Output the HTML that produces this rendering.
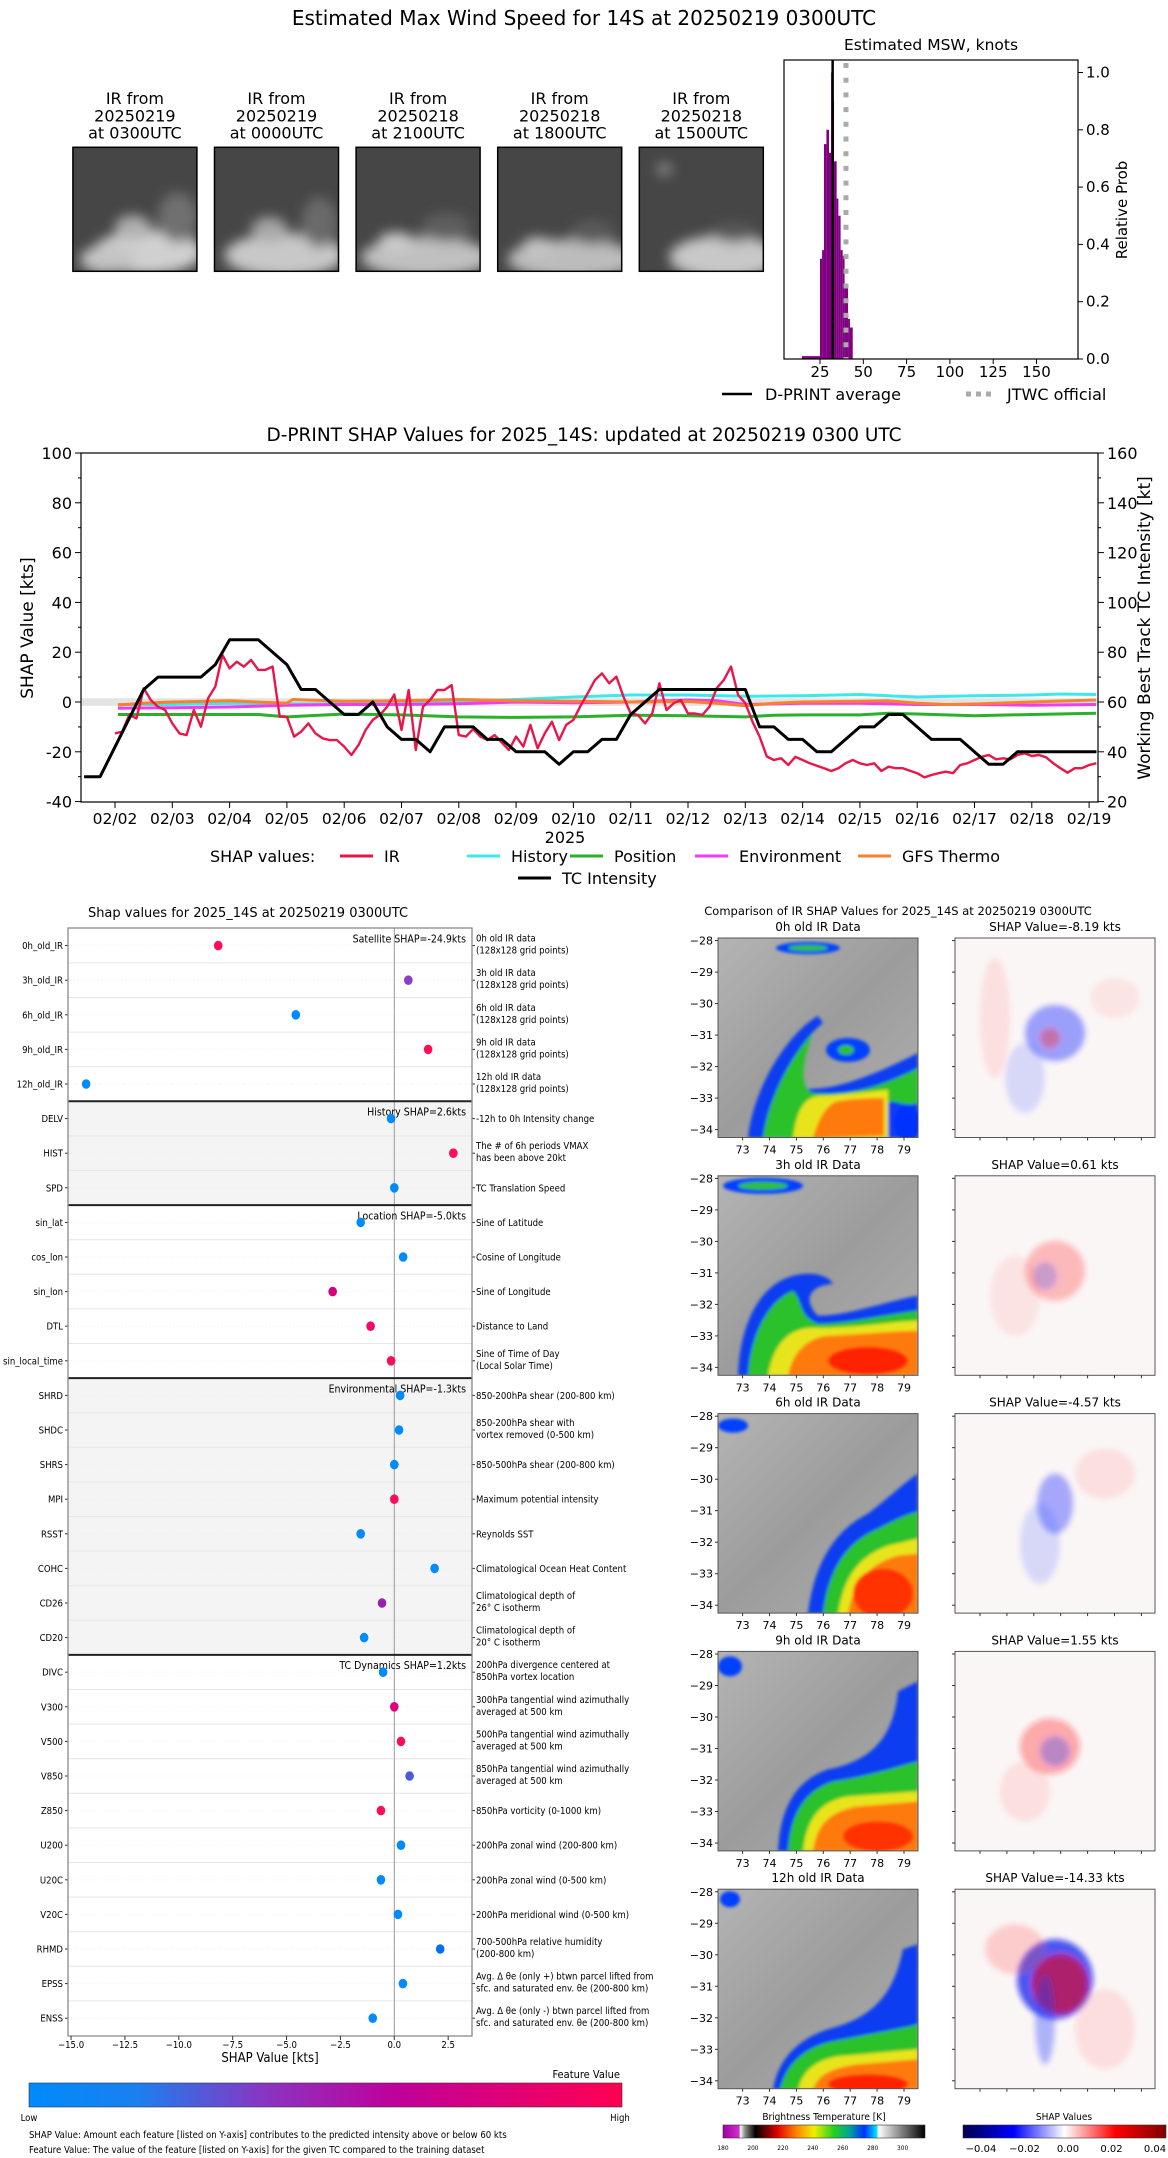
<!DOCTYPE html>
<html><head><meta charset="utf-8">
<style>
html,body{margin:0;padding:0;background:#fff;}
svg{display:block;font-family:"DejaVu Sans","Liberation Sans",sans-serif;}
.c{font-stretch:condensed;}
</style></head>
<body>
<svg id="root" width="1168" height="2158" viewBox="0 0 1168 2158" xmlns="http://www.w3.org/2000/svg">
<defs>
  <filter id="blur2" x="-20%" y="-20%" width="140%" height="140%"><feGaussianBlur stdDeviation="1.6"/></filter>
  <filter id="blur6" x="-50%" y="-50%" width="200%" height="200%"><feGaussianBlur stdDeviation="6"/></filter>
  <filter id="blur3" x="-50%" y="-50%" width="200%" height="200%"><feGaussianBlur stdDeviation="3"/></filter>
  <linearGradient id="grayBg" x1="0" y1="0" x2="1" y2="1"><stop offset="0" stop-color="#b4b4b4"/><stop offset="0.5" stop-color="#9c9c9c"/><stop offset="1" stop-color="#b0b0b0"/></linearGradient>
  <linearGradient id="featGrad" x1="0" y1="0" x2="1" y2="0"><stop offset="0" stop-color="#008bfb"/><stop offset="0.18" stop-color="#1a80f0"/><stop offset="0.4" stop-color="#8a34c2"/><stop offset="0.62" stop-color="#c0009a"/><stop offset="1" stop-color="#ff0052"/></linearGradient>
  <linearGradient id="btGrad" x1="0" y1="0" x2="1" y2="0">
    <stop offset="0" stop-color="#a000a0"/><stop offset="0.08" stop-color="#d030d0"/><stop offset="0.085" stop-color="#ffffff"/><stop offset="0.11" stop-color="#888"/><stop offset="0.16" stop-color="#000"/><stop offset="0.27" stop-color="#e00000"/><stop offset="0.36" stop-color="#ff8000"/><stop offset="0.45" stop-color="#f0f000"/><stop offset="0.55" stop-color="#20d020"/><stop offset="0.63" stop-color="#00a0a0"/><stop offset="0.7" stop-color="#0030ff"/><stop offset="0.76" stop-color="#00e0ff"/><stop offset="0.77" stop-color="#ffffff"/><stop offset="1" stop-color="#000"/>
  </linearGradient>
  <linearGradient id="shGrad" x1="0" y1="0" x2="1" y2="0"><stop offset="0" stop-color="#00004c"/><stop offset="0.25" stop-color="#0000ff"/><stop offset="0.5" stop-color="#ffffff"/><stop offset="0.75" stop-color="#ff0000"/><stop offset="1" stop-color="#800000"/></linearGradient>
</defs>
<text x="584" y="25" text-anchor="middle" font-size="20">Estimated Max Wind Speed for 14S at 20250219 0300UTC</text>
<g id="thumbs"></g>
<g id="hist"></g>
<g id="ts"></g>
<g id="dots"></g>
<g id="panels"></g>
</svg>
<script>
// ---------------- DATA ----------------
const thumbTitles = [["IR from","20250219","at 0300UTC"],["IR from","20250219","at 0000UTC"],["IR from","20250218","at 2100UTC"],["IR from","20250218","at 1800UTC"],["IR from","20250218","at 1500UTC"]];
const histEdges = [14.6,25,26.2,27.3,28.7,30.2,31.4,32.3,33.1,34.6,35.6,36.9,38.1,39.2,41.2,42.3,43.9];
const histProb = [0.01,0.35,0.38,0.75,0.80,0.72,1.0,0.9,0.69,0.56,0.50,0.38,0.36,0.26,0.14,0.11];
const dprintAvg = 32.3;
const jtwcOfficial = 40;
const histXTicks = [25,50,75,100,125,150];
const histYTicks = [0,0.2,0.4,0.6,0.8,1.0];

const tsDayTicks = [2,3,4,5,6,7,8,9,10,11,12,13,14,15,16,17,18,19];
const tsDayLabels = ["02/02","02/03","02/04","02/05","02/06","02/07","02/08","02/09","02/10","02/11","02/12","02/13","02/14","02/15","02/16","02/17","02/18","02/19"];
const shapTicks = [-40,-20,0,20,40,60,80,100];
const intTicks = [20,40,60,80,100,120,140,160];
const irStartDay = 2.0;
const irStepDay = 0.125;
const irValues = [-12.6,-11.9,-5.2,-6.6,5.5,0.8,-1.9,-3.2,-8.6,-12.6,-13.3,-3.2,-9.9,1.5,6.2,18.9,13.5,16.2,14.2,16.9,12.9,12.9,14.2,-5.9,-5.9,-13.9,-11.9,-8.6,-12.6,-14.6,-15.3,-15.3,-17.9,-21.3,-17.3,-11.2,-7.2,-5.2,-1.9,3.0,-11.2,4.8,-19.3,-1.9,0.8,4.8,4.8,6.8,-13.3,-13.9,-10.9,-13.9,-15.3,-13.3,-16.3,-19.3,-13.9,-17.9,-9.2,-18.6,-12.6,-7.9,-15.3,-9.2,-7.2,-1.5,3.5,8.8,
 11.5,7.5,10.2,2.1,-4.6,-5.2,-8.6,-4.6,7.5,-3.2,-0.5,0.8,-4.6,-4.6,-5.2,-1.9,5.5,8.8,14.2,2.8,-0.5,-7.9,-13.9,-21.9,-23.3,-22.6,-25.3,-22.0,-23.3,-24.6,-25.6,-26.6,-27.7,-26.6,-24.6,-23.3,-24.6,-25.3,-24.6,-27.7,-26.0,-26.6,-26.6,-27.6,-28.6,-30.3,-29.3,-28.6,-28.0,-28.6,-25.3,-24.6,-23.3,-22.0,-21.3,-23.0,-22.6,-23.0,-21.3,-20.6,-21.7,-21.3,-22.2,-24.6,-26.6,-28.4,-26.6,-26.6,-25.3,-24.6];
const histT = [2.05,3,4,5,6,6.5,7,8,9,9.5,10,11,12,13,14,15,15.5,16,17,18,18.5,19.12];
const histV = [-1,-1,-0.5,-0.8,-0.8,-0.5,0,0.3,1,1.5,2,2.8,2.8,2.3,2.5,3,2.5,2,2.5,2.8,3.2,3];
const posT = [2.05,3,4,4.5,5,6,7,8,9,10,11,12,13,13.5,14,15,15.5,16,17,18,19.12];
const posV = [-5,-5,-5,-5,-6,-4.8,-5.2,-6,-6.2,-6,-5.3,-5.5,-6,-5.3,-5.2,-5.2,-4.5,-4.8,-5.5,-5,-4.5];
const envT = [2.05,3,4,5,6,7,8,9,10,11,12,12.5,13,14,15,16,17,18,19.12];
const envV = [-2.5,-2.3,-2,-1.3,-1,-1,-0.7,0,-0.3,0,0.8,0.5,-1,-0.5,-0.5,-1,-1,-1.3,-1];
const gfsT = [2.05,2.5,3,4,5,5.1,6,7,8,9,10,11,12,12.5,13,13.5,14,15,15.5,16,16.5,17,18,19.12];
const gfsV = [-1.2,-0.5,0,0.5,-0.5,1,0.3,0.5,1,0.5,0.3,0,0.2,-0.5,-1.5,-0.5,0,0.3,0.5,-0.5,-1,-0.8,0,0.8];
const tcT = [1.46,1.74,2.5,2.75,3.5,3.75,4.0,4.5,5.0,5.25,5.5,6.0,6.25,6.5,6.75,7.0,7.25,7.5,7.75,8.25,8.5,8.75,9.0,9.5,9.75,10.0,10.25,10.5,10.75,11.0,11.5,13.0,13.25,13.5,13.75,14.0,14.25,14.5,15.0,15.25,15.5,15.75,16.25,16.75,17.25,17.5,17.75,19.13];
const tcKt = [30,30,65,70,70,75,85,85,75,65,65,55,55,60,50,45,45,40,50,50,45,45,40,40,35,40,40,45,45,55,65,65,50,50,45,45,40,40,50,50,55,55,45,45,35,35,40,40];

const featNames = ["0h_old_IR","3h_old_IR","6h_old_IR","9h_old_IR","12h_old_IR","DELV","HIST","SPD","sin_lat","cos_lon","sin_lon","DTL","sin_local_time","SHRD","SHDC","SHRS","MPI","RSST","COHC","CD26","CD20","DIVC","V300","V500","V850","Z850","U200","U20C","V20C","RHMD","EPSS","ENSS"];
const featShap = [-8.17,0.65,-4.57,1.57,-14.3,-0.15,2.74,0.0,-1.56,0.41,-2.86,-1.1,-0.15,0.27,0.22,0.0,0.0,-1.56,1.87,-0.57,-1.4,-0.52,0.0,0.31,0.71,-0.62,0.31,-0.62,0.17,2.13,0.4,-1.0];
const featColor = ["#ff0d57","#8a3fc9","#008bfb","#ff0d57","#008bfb","#008bfb","#ff0d57","#008bfb","#008bfb","#008bfb","#d4007c","#f0086a","#ff0d57","#008bfb","#008bfb","#008bfb","#ff0d57","#008bfb","#008bfb","#9a1fb0","#008bfb","#008bfb","#e0007a","#ff0d57","#4a5ae0","#ff0d57","#008bfb","#008bfb","#008bfb","#0070ee","#008bfb","#008bfb"];
const featDesc = [["0h old IR data","(128x128 grid points)"],["3h old IR data","(128x128 grid points)"],["6h old IR data","(128x128 grid points)"],["9h old IR data","(128x128 grid points)"],["12h old IR data","(128x128 grid points)"],["-12h to 0h Intensity change"],["The # of 6h periods VMAX","has been above 20kt"],["TC Translation Speed"],["Sine of Latitude"],["Cosine of Longitude"],["Sine of Longitude"],["Distance to Land"],["Sine of Time of Day","(Local Solar Time)"],["850-200hPa shear (200-800 km)"],["850-200hPa shear with","vortex removed (0-500 km)"],["850-500hPa shear (200-800 km)"],["Maximum potential intensity"],["Reynolds SST"],["Climatological Ocean Heat Content"],["Climatological depth of","26° C isotherm"],["Climatological depth of","20° C isotherm"],["200hPa divergence centered at","850hPa vortex location"],["300hPa tangential wind azimuthally","averaged at 500 km"],["500hPa tangential wind azimuthally","averaged at 500 km"],["850hPa tangential wind azimuthally","averaged at 500 km"],["850hPa vorticity (0-1000 km)"],["200hPa zonal wind (200-800 km)"],["200hPa zonal wind (0-500 km)"],["200hPa meridional wind (0-500 km)"],["700-500hPa relative humidity","(200-800 km)"],["Avg. Δ θe (only +) btwn parcel lifted from","sfc. and saturated env. θe (200-800 km)"],["Avg. Δ θe (only -) btwn parcel lifted from","sfc. and saturated env. θe (200-800 km)"]];
const groupStart = [0,5,8,13,21];
const groupEnd = [4,7,12,20,31];
const groupLabels = ["Satellite SHAP=-24.9kts","History SHAP=2.6kts","Location SHAP=-5.0kts","Environmental SHAP=-1.3kts","TC Dynamics SHAP=1.2kts"];
const groupShaded = [false,true,false,true,false];
const dotXTicks = [-15,-12.5,-10,-7.5,-5,-2.5,0,2.5];
const dotXTickLabels = ["−15.0","−12.5","−10.0","−7.5","−5.0","−2.5","0.0","2.5"];

const panelIRTitles = ["0h old IR Data","3h old IR Data","6h old IR Data","9h old IR Data","12h old IR Data"];
const panelShapVals = ["-8.19","0.61","-4.57","1.55","-14.33"];
const latTicks = [-28,-29,-30,-31,-32,-33,-34];
const lonTicks = [73,74,75,76,77,78,79];
const btTicks = [180,200,220,240,260,280,300];
const shTicks = ["−0.04","−0.02","0.00","0.02","0.04"];

// ---------------- HELPERS ----------------
const NS = "http://www.w3.org/2000/svg";
function mk(tag, attrs, parent){ const e=document.createElementNS(NS,tag); for(const k in attrs) e.setAttribute(k,attrs[k]); parent.appendChild(e); return e; }
function txt(parent, x, y, s, size, anchor, extra){ const e=mk('text',Object.assign({x:x,y:y,'font-size':size,'text-anchor':anchor||'start'},extra||{}),parent); e.textContent=s; return e; }

// ---------------- THUMBNAILS ----------------
(function(){
  const g=document.getElementById('thumbs');
  const blobs=[
    [[75,105,55,22,'#d0d0d0'],[60,80,18,12,'#b0b0b0'],[105,70,20,25,'#707070'],[35,112,28,14,'#c4c4c4']],
    [[70,108,60,22,'#c8c8c8'],[55,82,18,12,'#a8a8a8'],[105,75,18,25,'#6a6a6a']],
    [[70,110,65,20,'#c0c0c0'],[40,95,18,10,'#cacaca'],[90,80,25,14,'#5e5e5e']],
    [[75,112,65,20,'#bcbcbc'],[40,100,16,10,'#c4c4c4'],[95,85,22,12,'#5a5a5a']],
    [[85,110,55,22,'#c8c8c8'],[25,22,8,6,'#8a8a8a'],[95,85,22,10,'#585858']]];
  for(let i=0;i<5;i++){
    const x0=72.9+i*141.6, y0=147.3, w=124, h=124, cx=x0+w/2;
    const th=mk('g',{},g);
    
    
    thumbTitles[i].forEach((s,j)=>{ const t=txt(th,cx,104+j*17.3,s,16,'middle');   });
    const cp=mk('clipPath',{id:'tc'+i},th); mk('rect',{x:x0,y:y0,width:w,height:h},cp);
    const ig=mk('g',{'clip-path':'url(#tc'+i+')'},th);
    mk('rect',{x:x0,y:y0,width:w,height:h,fill:'#464646'},ig);
    const bg=mk('g',{filter:'url(#blur6)'},ig);
    blobs[i].forEach(b=>mk('ellipse',{cx:x0+b[0],cy:y0+b[1],rx:b[2],ry:b[3],fill:b[4]},bg));
    mk('rect',{x:x0,y:y0,width:w,height:h,fill:'none',stroke:'#000','stroke-width':1.5},th);
  }
})();

// ---------------- HISTOGRAM ----------------
(function(){
  const g=document.getElementById('hist');
  const X=v=>776.7+v*1.732, Y=p=>359-p*286.5;
  const L=784,R=1078,T=60,B=359;
  txt(g,931,50,'Estimated MSW, knots',15.5,'middle');
  for(let i=0;i<histProb.length;i++){
    const r=mk('rect',{x:X(histEdges[i]),y:Y(histProb[i]),width:X(histEdges[i+1])-X(histEdges[i]),height:B-Y(histProb[i]),fill:'#800080'},g);
    
    
  }
  const avg=mk('line',{x1:X(dprintAvg),x2:X(dprintAvg),y1:T,y2:B,stroke:'#000','stroke-width':2.5},g);
  
  
  const jt=mk('line',{x1:X(jtwcOfficial),x2:X(jtwcOfficial),y1:T+3,y2:B,stroke:'#aaa','stroke-width':5,'stroke-dasharray':'5 9.7'},g);
  
  
  mk('rect',{x:L,y:T,width:R-L,height:B-T,fill:'none',stroke:'#000','stroke-width':1.2},g);
  histXTicks.forEach(v=>{ mk('line',{x1:X(v),x2:X(v),y1:B,y2:B+5,stroke:'#000'},g); const t=txt(g,X(v),377,String(v),15,'middle');  });
  histYTicks.forEach(v=>{ mk('line',{x1:R,x2:R+5,y1:Y(v),y2:Y(v),stroke:'#000'},g); const t=txt(g,R+8,Y(v)+5,v.toFixed(1),15,'start');  });
  const yl=txt(g,0,0,'Relative Prob',15,'middle',{transform:'translate(1127,210) rotate(-90)'});
  
  const lg=mk('g',{},g);
  
  
  mk('line',{x1:722,x2:752,y1:394,y2:394,stroke:'#000','stroke-width':2.5},lg);
  txt(lg,765,400,'D-PRINT average',16,'start');
  mk('line',{x1:966,x2:996,y1:394,y2:394,stroke:'#aaa','stroke-width':5,'stroke-dasharray':'5 5'},lg);
  txt(lg,1007,400,'JTWC official',16,'start');
})();

// ---------------- TIME SERIES ----------------
(function(){
  const g=document.getElementById('ts');
  const L=81,R=1098,T=453,B=802;
  const X=d=>115+(d-2)*57.3, Y=v=>702-v*2.49, YI=k=>Y(k-60);
  txt(g,584,441,'D-PRINT SHAP Values for 2025_14S: updated at 20250219 0300 UTC',18.5,'middle');
  const band=mk('rect',{x:L,y:Y(1.5),width:R-L,height:Y(-1.5)-Y(1.5),fill:'#e3e3e3'},g);
  
  
  function line(ts,vs,color,w,name){
    const d=ts.map((t,i)=>(i?'L':'M')+X(t).toFixed(1)+','+Y(vs[i]).toFixed(1)).join(' ');
    const p=mk('path',{d:d,fill:'none',stroke:color,'stroke-width':w,'stroke-linejoin':'round'},g);
    
    
  }
  line(posT,posV,'#2ab02a',3,'position-line');
  line(histT,histV,'#3ee8ea',3,'history-line');
  line(envT,envV,'#f03cf0',3,'environment-line');
  line(gfsT,gfsV,'#f7812e',3,'gfs-thermo-line');
  const irT=irValues.map((v,i)=>irStartDay+i*irStepDay);
  line(irT,irValues,'#e8174a',2.4,'ir-line');
  const d=tcT.map((t,i)=>(i?'L':'M')+X(t).toFixed(1)+','+YI(tcKt[i]).toFixed(1)).join(' ');
  const tc=mk('path',{d:d,fill:'none',stroke:'#000','stroke-width':3,'stroke-linejoin':'round'},g);
  
  
  mk('rect',{x:L,y:T,width:R-L,height:B-T,fill:'none',stroke:'#000','stroke-width':1.2},g);
  shapTicks.forEach(v=>{ mk('line',{x1:L-6,x2:L,y1:Y(v),y2:Y(v),stroke:'#000'},g); const t=txt(g,L-9,Y(v)+6,String(v),16,'end');  if(v<100) mk('line',{x1:L-3,x2:L,y1:Y(v+10),y2:Y(v+10),stroke:'#000'},g); });
  intTicks.forEach(v=>{ mk('line',{x1:R,x2:R+6,y1:YI(v),y2:YI(v),stroke:'#000'},g); const t=txt(g,R+9,YI(v)+6,String(v),16,'start');  if(v>20) mk('line',{x1:R,x2:R+3,y1:YI(v-10),y2:YI(v-10),stroke:'#000'},g); });
  tsDayTicks.forEach((d,i)=>{ mk('line',{x1:X(d),x2:X(d),y1:B,y2:B+6,stroke:'#000'},g); const t=txt(g,X(d),824,tsDayLabels[i],15.5,'middle');  });
  txt(g,565,843,'2025',16,'middle');
  txt(g,0,0,'SHAP Value [kts]',17,'middle',{transform:'translate(33,628) rotate(-90)'});
  txt(g,0,0,'Working Best Track TC Intensity [kt]',17,'middle',{transform:'translate(1150,628) rotate(-90)'});
  const lg=mk('g',{},g);
  
  
  txt(lg,210,862,'SHAP values:',16,'start');
  const items=[[340,'#e8174a','IR'],[467,'#3ee8ea','History'],[570,'#2ab02a','Position'],[695,'#f03cf0','Environment'],[858,'#f7812e','GFS Thermo']];
  items.forEach(it=>{ mk('line',{x1:it[0],x2:it[0]+33,y1:856,y2:856,stroke:it[1],'stroke-width':3},lg); txt(lg,it[0]+44,862,it[2],16,'start'); });
  mk('line',{x1:518,x2:551,y1:878,y2:878,stroke:'#000','stroke-width':3},lg);
  txt(lg,562,884,'TC Intensity',16,'start');
})();

// ---------------- DOT CHART ----------------
(function(){
  const g=document.getElementById('dots');
  const L=68,R=472,T=928,B=2036;
  const X=v=>394.3+v*21.55, RY=i=>945.6+i*34.6;
  txt(g,248,917,'Shap values for 2025_14S at 20250219 0300UTC',13,'middle');
  for(let k=0;k<5;k++){
    const y1=k===0?T:(RY(groupStart[k])+RY(groupStart[k]-1))/2;
    const y2=k===4?B:(RY(groupEnd[k])+RY(groupEnd[k]+1))/2;
    if(groupShaded[k]){ const r=mk('rect',{x:L,y:y1,width:R-L,height:y2-y1,fill:'#f4f4f4'},g);  }
  }
  for(let i=0;i<featNames.length-1;i++){ mk('line',{x1:L,x2:R,y1:(RY(i)+RY(i+1))/2,y2:(RY(i)+RY(i+1))/2,stroke:'#e6e6e6','stroke-width':1},g); }
  for(let i=0;i<featNames.length;i++){ mk('line',{x1:L,x2:R,y1:RY(i),y2:RY(i),stroke:'#eee','stroke-width':0.8,'stroke-dasharray':'1 2'},g); }
  mk('line',{x1:X(0),x2:X(0),y1:T,y2:B,stroke:'#999','stroke-width':1},g);
  for(let k=1;k<5;k++){ const y=(RY(groupStart[k])+RY(groupStart[k]-1))/2; const s=mk('line',{x1:L,x2:R,y1:y,y2:y,stroke:'#222','stroke-width':2},g);  }
  for(let k=0;k<5;k++){ const t=txt(g,466,RY(groupStart[k])-3,groupLabels[k],10.5,'end'); t.setAttribute('class','c');   }
  featNames.forEach((n,i)=>{
    const y=RY(i);
    mk('line',{x1:L-3,x2:L,y1:y,y2:y,stroke:'#333'},g);
    const lt=txt(g,L-5,y+3.5,n,9.5,'end'); lt.setAttribute('class','c');
    
    
    mk('line',{x1:R,x2:R+3,y1:y,y2:y,stroke:'#333'},g);
    const ds=featDesc[i];
    ds.forEach((s,j)=>{ const t=txt(g,476,y+(ds.length===1?3.5:-4+j*12),s,9.5,'start'); t.setAttribute('class','c');  });
    const c=mk('ellipse',{cx:X(featShap[i]),cy:y,rx:4.3,ry:4.8,fill:featColor[i]},g);
    
    
  });
  mk('rect',{x:L,y:T,width:R-L,height:B-T,fill:'none',stroke:'#888','stroke-width':1.3},g);
  dotXTicks.forEach((v,i)=>{ mk('line',{x1:X(v),x2:X(v),y1:B,y2:B+4,stroke:'#333'},g); const t=txt(g,X(v),2048,dotXTickLabels[i],9.5,'middle'); t.setAttribute('class','c');  });
  const xt=txt(g,270,2062,'SHAP Value [kts]',13,'middle'); xt.setAttribute('class','c'); 
  const cb=mk('rect',{x:29,y:2083,width:593,height:24,fill:'url(#featGrad)',stroke:'#333','stroke-width':0.6},g);
  
  
  let t=txt(g,620,2078,'Feature Value',11,'end'); t.setAttribute('class','c');
  t=txt(g,29,2121,'Low',9.5,'middle'); t.setAttribute('class','c');
  t=txt(g,620,2121,'High',9.5,'middle'); t.setAttribute('class','c');
  t=txt(g,29,2138,'SHAP Value: Amount each feature [listed on Y-axis] contributes to the predicted intensity above or below 60 kts',9.5,'start'); t.setAttribute('class','c'); 
  t=txt(g,29,2153,'Feature Value: The value of the feature [listed on Y-axis] for the given TC compared to the training dataset',9.5,'start'); t.setAttribute('class','c'); 
})();

// ---------------- IR / SHAP PANELS ----------------
(function(){
  const g=document.getElementById('panels');
  txt(g,898,915,'Comparison of IR SHAP Values for 2025_14S at 20250219 0300UTC',11.5,'middle');
  const shapes=[
    {b:'M30,200 C35,150 70,95 100,78 L105,85 C85,100 70,130 80,150 C110,155 150,140 200,115 L200,200 Z',
     gr:'M45,200 C50,160 75,115 95,95 C85,120 80,150 95,155 C130,158 160,150 200,130 L200,165 C185,170 175,160 170,165 L170,200 Z',
     y:'M75,200 C78,175 85,160 100,158 C130,157 160,152 170,152 L170,200 Z',
     o:'M95,200 C100,180 110,165 120,163 C140,160 160,160 166,160 L166,198 Z',
     ex:[[130,112,22,12,'#0040ff'],[128,112,8,5,'#30c030'],[90,10,32,6,'#0040ff'],[90,10,20,3,'#30c030'],[190,185,14,18,'#0030ff']]},
    {b:'M20,200 C22,150 40,110 75,100 C95,95 110,100 115,108 C90,110 85,125 100,140 C130,140 170,125 200,120 L200,200 Z',
     gr:'M30,200 C32,160 50,125 75,115 C85,125 80,140 100,148 C130,148 170,138 200,135 L200,200 Z',
     y:'M50,200 C55,170 70,150 100,152 C140,152 180,145 200,145 L200,200 Z',
     o:'M70,200 C75,175 90,162 110,160 C150,158 180,155 200,155 L200,200 Z',
     ex:[[150,185,40,14,'#ff2000'],[45,10,40,8,'#0040ff'],[45,10,25,4,'#30c030']]},
    {b:'M90,200 C95,160 110,120 150,100 C170,85 185,70 200,60 L200,200 Z',
     gr:'M105,200 C110,160 125,130 160,115 C180,105 190,100 200,98 L200,200 Z',
     y:'M120,200 C125,170 135,145 170,132 L200,125 L200,200 Z',
     o:'M130,200 C135,170 150,150 180,142 L200,140 L200,200 Z',
     ex:[[165,180,30,25,'#ff3000'],[15,12,15,7,'#0040ff']]},
    {b:'M60,200 C62,160 75,130 110,118 C150,110 175,90 180,40 L200,30 L200,200 Z',
     gr:'M70,200 C72,165 85,140 115,130 C150,125 180,115 200,110 L200,200 Z',
     y:'M85,200 C88,170 100,150 130,145 L200,140 L200,200 Z',
     o:'M95,200 C98,175 110,160 140,155 L200,150 L200,200 Z',
     ex:[[160,185,35,15,'#ff3000'],[12,15,12,10,'#0040ff']]},
    {b:'M55,200 C60,170 80,150 110,140 C150,130 175,110 185,60 L200,55 L200,200 Z',
     gr:'M62,200 C68,175 85,160 110,153 C150,145 180,140 200,135 L200,200 Z',
     y:'M80,200 C85,180 100,170 120,167 L200,160 L200,200 Z',
     o:'M95,200 C100,185 115,178 140,175 L200,170 L200,200 Z',
     ex:[[150,195,40,10,'#ff2000'],[12,10,10,8,'#0040ff']]}];
  const shapBlobs=[
    [[100,95,30,28,'#2030ff',0.45],[95,100,10,10,'#ff3030',0.4],[70,140,20,35,'#4060ff',0.2],[40,80,15,60,'#ff6060',0.15],[160,60,25,20,'#ff6060',0.12]],
    [[100,95,30,30,'#ff3030',0.3],[90,100,12,14,'#3040ff',0.25],[60,120,25,40,'#ff5050',0.12]],
    [[100,90,18,30,'#2030ff',0.4],[85,130,20,40,'#4060ff',0.2],[150,60,30,25,'#ff6060',0.15]],
    [[95,95,30,28,'#ff2020',0.35],[100,100,15,15,'#2030ff',0.3],[70,140,25,30,'#ff6060',0.15]],
    [[100,90,38,40,'#0010ee',0.7],[105,95,28,30,'#ff0000',0.55],[90,130,10,45,'#2030ff',0.35],[60,60,30,25,'#ff5050',0.25],[150,140,30,40,'#ff8080',0.2]]];
  for(let r=0;r<5;r++){
    const top=938+r*237.8, H=199.5, ix=718, sx=955, W=200;
    const row=mk('g',{},g);
    
    
    const t1=txt(row,ix+W/2,top-7,panelIRTitles[r],12,'middle'); 
    const t2=txt(row,sx+W/2,top-7,'SHAP Value='+panelShapVals[r]+' kts',12,'middle'); 
    const cp=mk('clipPath',{id:'ic'+r},row); mk('rect',{x:ix,y:top,width:W,height:H},cp);
    const ir=mk('g',{'clip-path':'url(#ic'+r+')'},row);
    
    
    mk('rect',{x:ix,y:top,width:W,height:H,fill:'url(#grayBg)'},ir);
    const s=shapes[r];
    const sg=mk('g',{transform:'translate('+ix+','+top+')',filter:'url(#blur2)'},ir);
    mk('path',{d:s.b,fill:'#0a3cf0'},sg);
    mk('path',{d:s.gr,fill:'#2cc12c'},sg);
    mk('path',{d:s.y,fill:'#e8e41a'},sg);
    mk('path',{d:s.o,fill:'#ff7a10'},sg);
    s.ex.forEach(e=>mk('ellipse',{cx:e[0],cy:e[1],rx:e[2],ry:e[3],fill:e[4]},sg));
    mk('rect',{x:ix,y:top,width:W,height:H,fill:'none',stroke:'#555','stroke-width':1},row);
    latTicks.forEach(v=>{ const y=top+2.6+(-28-v)*31.5; mk('line',{x1:ix-3,x2:ix,y1:y,y2:y,stroke:'#333'},row); const t=txt(row,ix-5,y+4,'−'+Math.abs(v),11,'end');  });
    lonTicks.forEach(v=>{ const x=742.6+(v-73)*26.9; mk('line',{x1:x,x2:x,y1:top+H,y2:top+H+3,stroke:'#333'},row); const t=txt(row,x,top+H+16,String(v),11,'middle');  });
    const cp2=mk('clipPath',{id:'sc'+r},row); mk('rect',{x:sx,y:top,width:W,height:H},cp2);
    const sh=mk('g',{'clip-path':'url(#sc'+r+')'},row);
    
    
    mk('rect',{x:sx,y:top,width:W,height:H,fill:'#fbf6f6'},sh);
    const bg=mk('g',{transform:'translate('+sx+','+top+')',filter:'url(#blur3)'},sh);
    shapBlobs[r].forEach(e=>mk('ellipse',{cx:e[0],cy:e[1],rx:e[2],ry:e[3],fill:e[4],'fill-opacity':e[5]},bg));
    mk('rect',{x:sx,y:top,width:W,height:H,fill:'none',stroke:'#555','stroke-width':1},row);
    for(let k=0;k<7;k++){ const x=sx+25+k*26.9; mk('line',{x1:x,x2:x,y1:top+H,y2:top+H+3,stroke:'#333'},row); }
    for(let k=0;k<7;k++){ const y=top+2.6+k*31.5; mk('line',{x1:sx-3,x2:sx,y1:y,y2:y,stroke:'#333'},row); }
  }
  const c1=mk('rect',{x:723,y:2125,width:202,height:13,fill:'url(#btGrad)',stroke:'#333','stroke-width':0.6},g);
  
  
  txt(g,824,2120,'Brightness Temperature [K]',10,'middle').setAttribute('class','c');
  btTicks.forEach(v=>{ const x=723+(v-180)*1.497; const t=txt(g,x,2150,String(v),6.5,'middle'); t.setAttribute('class','c');  });
  const c2=mk('rect',{x:963,y:2125,width:203,height:13,fill:'url(#shGrad)',stroke:'#333','stroke-width':0.6},g);
  
  
  txt(g,1064,2120,'SHAP Values',10,'middle').setAttribute('class','c');
  shTicks.forEach((s,i)=>{ const x=981+i*43.5; const t=txt(g,x,2152,s,10,'middle');  });
})();
</script>
</body></html>
